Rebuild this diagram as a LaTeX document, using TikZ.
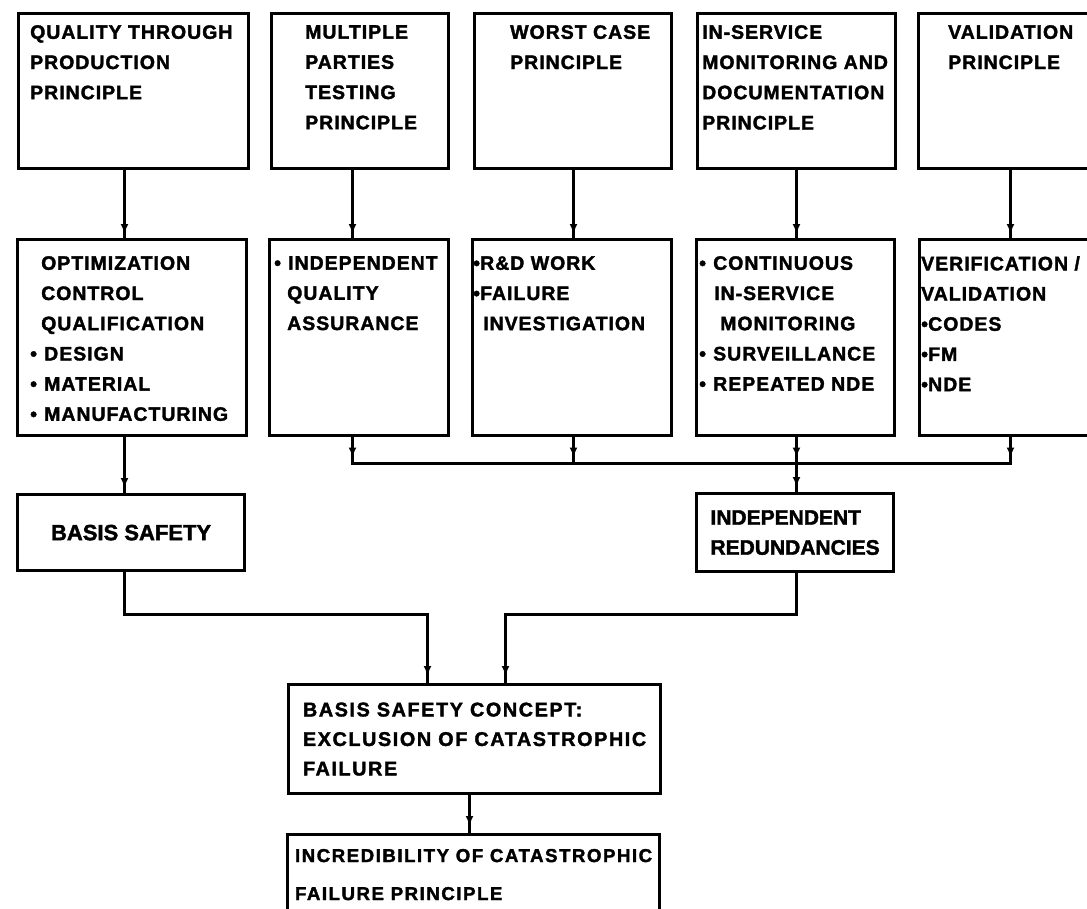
\documentclass[tikz,border=0pt]{standalone}
\usepackage{fontspec}
\setmainfont{Liberation Sans}
\newfontfamily\headfont[LetterSpace=5, FakeBold=1.8]{Liberation Sans Bold}
\newfontfamily\plainfont[FakeBold=1.8]{Liberation Sans Bold}
\usetikzlibrary{arrows.meta,decorations.markings,calc}

% bullets: wide gap and tight gap
\newcommand\itemdot{\makebox[14pt][l]{•}}
\newcommand\tightdot{\makebox[7pt][l]{•}}

\tikzset{
  box/.style={draw, line width=3.2pt, inner sep=0pt, anchor=north west},
  txt/.style={anchor=north west, inner sep=0pt, align=left,
    font=\headfont\fontsize{19.5}{30.2}\selectfont},
  wire/.style={line width=3pt, line cap=rect},
  headat/.style={postaction={decorate},
    decoration={markings, mark=at position -#1 with {\arrow{Latex[length=10pt,width=8pt]}}}},
}

\begin{document}
\begin{tikzpicture}[x=1pt,y=-1pt]
\useasboundingbox (0,0) rectangle (1087,908);
\clip (0,0) rectangle (1087,908);

% column and level guides
\coordinate (c1) at (124.5,0);
\coordinate (c2) at (352.5,0);
\coordinate (c3) at (573.5,0);
\coordinate (c4) at (796.5,0);
\coordinate (c5) at (1010.5,0);
\coordinate (bus) at (0,463.5);
\coordinate (join) at (0,614.5);
\coordinate (inL) at (427.5,0);
\coordinate (inR) at (505.5,0);
\coordinate (cdown) at (469.5,0);

% principles
\node[box, minimum width=230pt, minimum height=155pt] (t1) at (17,12) {};
\node[box, minimum width=177pt, minimum height=155pt] (t2) at (270,12) {};
\node[box, minimum width=197pt, minimum height=155pt] (t3) at (473,12) {};
\node[box, minimum width=198pt, minimum height=155pt] (t4) at (696,12) {};
\node[box, minimum width=200pt, minimum height=155pt] (t5) at (917,12) {};

\node[txt] (t1t) at (30,25) {QUALITY THROUGH\\PRODUCTION\\PRINCIPLE};
\node[txt] (t2t) at (305,25) {MULTIPLE\\PARTIES\\TESTING\\PRINCIPLE};
\node[txt] (t3t) at (510,25) {WORST CASE\\PRINCIPLE};
\node[txt] (t4t) at (702,25) {IN-SERVICE\\MONITORING AND\\DOCUMENTATION\\PRINCIPLE};
\node[txt] (t5t) at (948,25) {VALIDATION\\PRINCIPLE};

% measures
\node[box, minimum width=229pt, minimum height=196pt] (m1) at (16,238) {};
\node[box, minimum width=179pt, minimum height=196pt] (m2) at (268,238) {};
\node[box, minimum width=199pt, minimum height=196pt] (m3) at (471,238) {};
\node[box, minimum width=198pt, minimum height=196pt] (m4) at (695,238) {};
\node[box, minimum width=200pt, minimum height=196pt] (m5) at (918,238) {};

\node[txt] (m1t) at (30,256) {\hspace*{11pt}OPTIMIZATION\\\hspace*{11pt}CONTROL\\\hspace*{11pt}QUALIFICATION\\\itemdot DESIGN\\\itemdot MATERIAL\\\itemdot MANUFACTURING};
\node[txt] (m2t) at (274,256) {\itemdot INDEPENDENT\\\hspace*{13pt}QUALITY\\\hspace*{13pt}ASSURANCE};
\node[txt] (m3t) at (473,256) {\tightdot R\&D WORK\\\tightdot FAILURE\\\hspace*{10pt}INVESTIGATION};
\node[txt] (m4t) at (699,256) {\itemdot CONTINUOUS\\\hspace*{15pt}IN-SERVICE\\\hspace*{21pt}MONITORING\\\itemdot SURVEILLANCE\\\itemdot REPEATED NDE};
\node[txt] (m5t) at (921,256) {VERIFICATION /\\VALIDATION\\\tightdot CODES\\\tightdot FM\\\tightdot NDE};

% intermediate results
\node[box, minimum width=227pt, minimum height=76pt,
  font=\plainfont\fontsize{22}{26}\selectfont] (bs) at (16,493) {BASIS SAFETY};
\node[box, minimum width=197pt, minimum height=78pt, align=left,
  font=\plainfont\fontsize{21}{30}\selectfont] (ir) at (695,492) {INDEPENDENT\\REDUNDANCIES};

% concept and principle
\node[box, minimum width=372pt, minimum height=109pt, align=left,
  font=\headfont\addfontfeature{LetterSpace=8}\fontsize{19.8}{29.5}\selectfont] (bsc) at (287,683)
  {BASIS SAFETY CONCEPT:\\EXCLUSION OF CATASTROPHIC\\FAILURE};
\node[box, minimum width=372pt, minimum height=80pt, align=left,
  font=\headfont\addfontfeature{LetterSpace=8}\fontsize{18.7}{38}\selectfont] (ioc) at (286,833)
  {INCREDIBILITY OF CATASTROPHIC\\FAILURE PRINCIPLE};

% principle -> measure
\draw[wire, headat=4pt] (t1.south -| c1) -- (m1.north -| c1);
\draw[wire, headat=4pt] (t2.south -| c2) -- (m2.north -| c2);
\draw[wire, headat=4pt] (t3.south -| c3) -- (m3.north -| c3);
\draw[wire, headat=4pt] (t4.south -| c4) -- (m4.north -| c4);
\draw[wire, headat=4pt] (t5.south -| c5) -- (m5.north -| c5);

% measures feeding the redundancy bus
\draw[wire, headat=6pt] (m2.south -| c2) -- (c2 |- bus);
\draw[wire, headat=6pt] (m3.south -| c3) -- (c3 |- bus);
\draw[wire, headat=6pt] (m4.south -| c4) -- (c4 |- bus);
\draw[wire, headat=6pt] (m5.south -| c5) -- (c5 |- bus);
\draw[wire] (c2 |- bus) -- (c5 |- bus);
\draw[wire, headat=5pt] (c4 |- bus) -- (ir.north -| c4);

% production branch
\draw[wire, headat=5pt] (m1.south -| c1) -- (bs.north -| c1);

% both branches into the concept
\draw[wire, headat=7pt] (bs.south -| c1) |- (inL |- join) -- (bsc.north -| inL);
\draw[wire, headat=7pt] (ir.south -| c4) |- (inR |- join) -- (bsc.north -| inR);
\draw[wire, headat=7pt] (bsc.south -| cdown) -- (ioc.north -| cdown);
\end{tikzpicture}
\end{document}
